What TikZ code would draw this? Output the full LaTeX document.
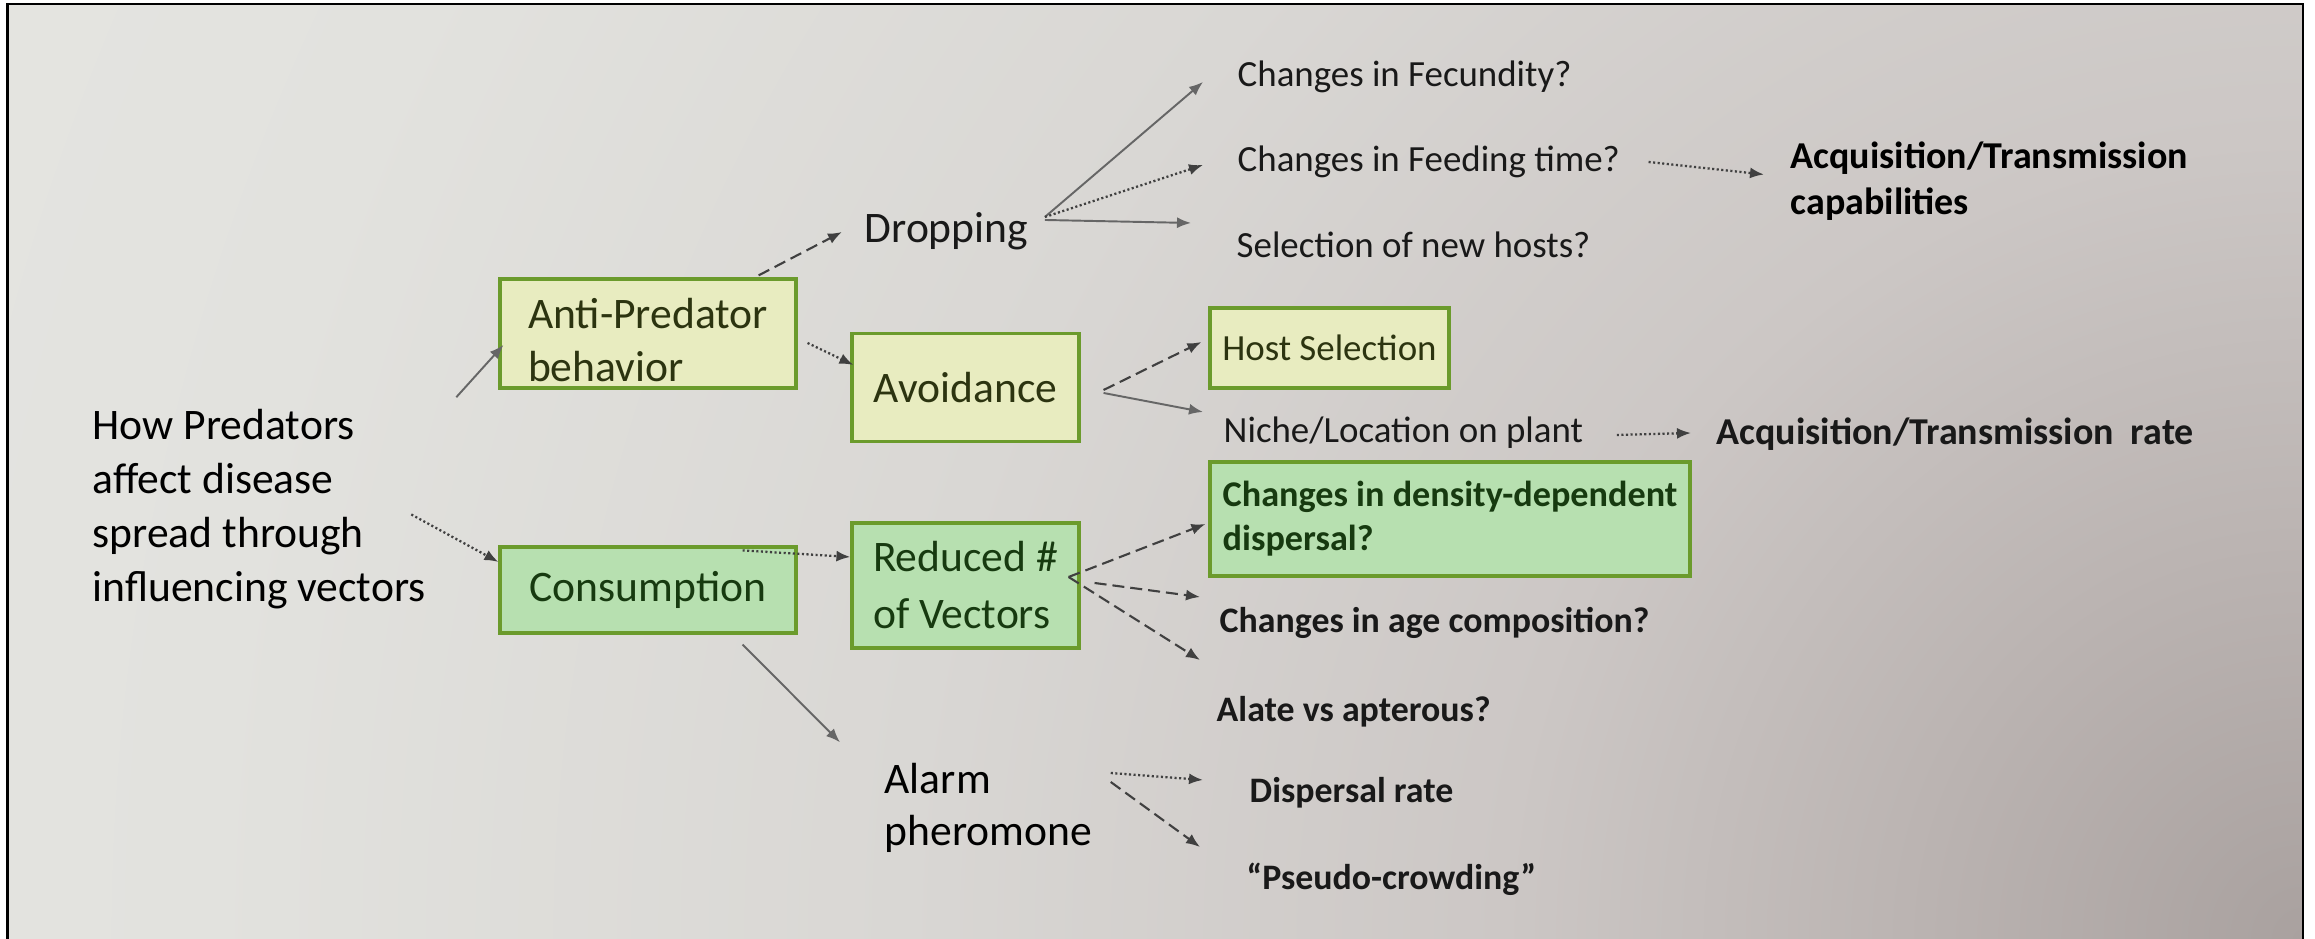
\documentclass[tikz,border=0pt]{standalone}
\usepackage{fontspec}
\setmainfont{Carlito}
\usetikzlibrary{arrows.meta}
\definecolor{boxline}{HTML}{6B9B2C}
\definecolor{yellowfill}{HTML}{E8ECC0}
\definecolor{greenfill}{HTML}{B7E0B0}
\definecolor{olivetext}{HTML}{2C3410}
\definecolor{greentext}{HTML}{173A10}
\definecolor{arrowgray}{HTML}{404040}
\definecolor{paperA}{HTML}{A9A19F}
\definecolor{paperB}{HTML}{BBB4B2}
\definecolor{paperC}{HTML}{CCC7C5}
\definecolor{paperD}{HTML}{D9D7D4}
\definecolor{paperE}{HTML}{E2E2DE}
\definecolor{paperF}{HTML}{E8E8E5}
\pgfdeclareradialshading{paper}{\pgfpoint{0bp}{0bp}}{color(0bp)=(paperA); color(4bp)=(paperB);
  color(8bp)=(paperC); color(14bp)=(paperD); color(21bp)=(paperE); color(32bp)=(paperF); color(50bp)=(paperF)}
\newcommand\bigtxt{\fontsize{12.4}{15}\selectfont}
\newcommand\midtxt{\fontsize{10.5}{12.6}\selectfont}
\newcommand\boldmid{\fontsize{10.2}{12}\selectfont\bfseries}
\newcommand\boldacq{\fontsize{10.8}{13}\selectfont\bfseries}
\tikzset{
  ybox/.style={draw=boxline, line width=0.9pt, fill=yellowfill, text=olivetext, align=left, font=\bigtxt},
  gbox/.style={draw=boxline, line width=0.9pt, fill=greenfill, text=greentext, align=left, font=\bigtxt},
  lbl/.style={inner sep=0pt, anchor=base west, text=black!90},
  plainline/.style={-{Latex[length=1.4mm,width=1.1mm]}, draw=arrowgray!80, line width=0.55pt},
  dotline/.style={plainline, draw=arrowgray, line width=0.65pt, dash pattern=on 0.6pt off 0.7pt},
  dashline/.style={plainline, draw=arrowgray, line width=0.6pt, dash pattern=on 1.2mm off 0.6mm}
}
\begin{document}
\begin{tikzpicture}
                \useasboundingbox (0,0) rectangle (23.15,9.39);
                \fill[white] (0,0) rectangle (23.15,9.39);
                \begin{scope}
                  \clip (0.075,0) rectangle (23.03,9.35);
                  \shade[shading=paper] (23.03,0) circle (25);
                \end{scope}
                \draw[line width=0.8pt] (0.075,0) -- (0.075,9.35) -- (23.03,9.35) -- (23.03,0);
                \node[font={\fontsize{12.4}{15.4}\selectfont}, align=left, anchor=west, inner sep=0pt] (title) at (0.92,4.30)
                  {How Predators\\affect disease\\spread through\\influencing vectors};
                \node[ybox, inner ysep=0pt, minimum width=2.96cm, minimum height=1.09cm] (anti) at (6.48,6.055)
                  {\rule{0pt}{0.44cm}Anti-Predator\\behavior};
                \node[ybox, minimum width=2.27cm, minimum height=1.08cm] (avoid) at (9.655,5.515) {Avoidance};
                \node[gbox, minimum width=2.96cm, minimum height=0.86cm] (cons) at (6.48,3.49) {Consumption};
                \node[gbox, minimum width=2.27cm, minimum height=1.25cm, font={\fontsize{12.4}{16.2}\selectfont}] (reduced)
                  at (9.655,3.535) {Reduced \#\\of Vectors};
                \node[ybox, font=\midtxt, minimum width=2.39cm, minimum height=0.80cm] (host) at (13.295,5.91) {Host Selection};
                \node[gbox, font={\fontsize{10.3}{12.6}\selectfont\bfseries}, minimum width=4.80cm, minimum height=1.14cm] (dens)
                  at (14.50,4.20) {Changes in density-dependent\\dispersal?};
                \node[lbl, font=\bigtxt] (drop) at (8.64,6.96) {Dropping};
                \node[lbl, font=\midtxt] (fec) at (12.37,8.52) {Changes in Fecundity?};
                \node[lbl, font=\midtxt] (feed) at (12.37,7.67) {Changes in Feeding time?};
                \node[lbl, font=\midtxt] (sel) at (12.36,6.81) {Selection of new hosts?};
                \node[font=\boldacq, align=left, anchor=west, inner sep=0pt] (acqcap) at (17.90,7.58)
                  {Acquisition/Transmission\\capabilities};
                \node[lbl, font=\midtxt] (niche) at (12.23,4.96) {Niche/Location on plant};
                \node[lbl, font=\boldacq] (acqrate) at (17.16,4.94) {Acquisition/Transmission\hspace{0.45em}rate};
                \node[lbl, font=\boldmid] (age) at (12.19,3.06) {Changes in age composition?};
                \node[lbl, font=\boldmid] (alate) at (12.16,2.17) {Alate vs apterous?};
                \node[font=\bigtxt, align=left, anchor=west, inner sep=0pt] (alarm) at (8.84,1.31) {Alarm\\pheromone};
                \node[lbl, font=\boldmid] (disp) at (12.49,1.36) {Dispersal rate};
                \node[lbl, font=\boldmid] (pseudo) at (12.46,0.49) {“Pseudo-crowding”};
                \draw[plainline] ([shift={(0.30,0.11)}]title.north east) -- ([shift={(0.05,-0.115)}]anti.west);
                \draw[dotline] ([shift={(-0.15,-0.055)}]title.east) -- ([yshift=0.28cm]cons.west);
                \draw[dashline] ([shift={(-0.39,0.02)}]anti.north east) -- ([shift={(-0.22,0.11)}]drop.base west);
                \draw[dotline] ([shift={(0.10,-0.095)}]anti.east) -- ([shift={(0.03,0.225)}]avoid.west);
                \draw[dotline] ([shift={(-0.55,-0.05)}]cons.north east) -- ([yshift=0.285cm]reduced.west);
                \draw[plainline] ([shift={(-0.55,-0.10)}]cons.south east) -- ([shift={(-0.44,0.20)}]alarm.north west);
                \draw[plainline] ([shift={(0.16,0.26)}]drop.base east) -- ([shift={(-0.34,0.05)}]fec.base west);
                \draw[dotline] ([shift={(0.16,0.26)}]drop.base east) -- ([shift={(-0.34,0.07)}]feed.base west);
                \draw[plainline] ([shift={(0.16,0.23)}]drop.base east) -- ([shift={(-0.45,0.35)}]sel.base west);
                \draw[dotline] ([shift={(0.28,0.10)}]feed.base east) -- ([shift={(-0.26,0.065)}]acqcap.west);
                \draw[dashline] ([shift={(0.23,-0.025)}]avoid.east) -- ([shift={(-0.07,0.06)}]host.west);
                \draw[plainline] ([shift={(0.23,-0.055)}]avoid.east) -- ([shift={(-0.20,0.31)}]niche.base west);
                \draw[dotline] ([shift={(0.33,0.08)}]niche.base east) -- ([shift={(-0.25,0.12)}]acqrate.base west);
                \draw[dashline] ([shift={(-0.12,0.085)}]reduced.east) -- ([shift={(-0.03,-0.05)}]dens.west);
                \draw[dashline] ([shift={(0.14,0.025)}]reduced.east) -- ([shift={(-0.19,0.36)}]age.base west);
                \draw[dashline] ([shift={(-0.12,0.085)}]reduced.east) -- ([shift={(-0.16,0.62)}]alate.base west);
                \draw[dotline] ([shift={(0.18,0.35)}]alarm.east) -- ([shift={(-0.46,0.23)}]disp.base west);
                \draw[dashline] ([shift={(0.18,0.26)}]alarm.east) -- ([shift={(-0.46,0.43)}]pseudo.base west);
            \end{tikzpicture}
\end{document}
